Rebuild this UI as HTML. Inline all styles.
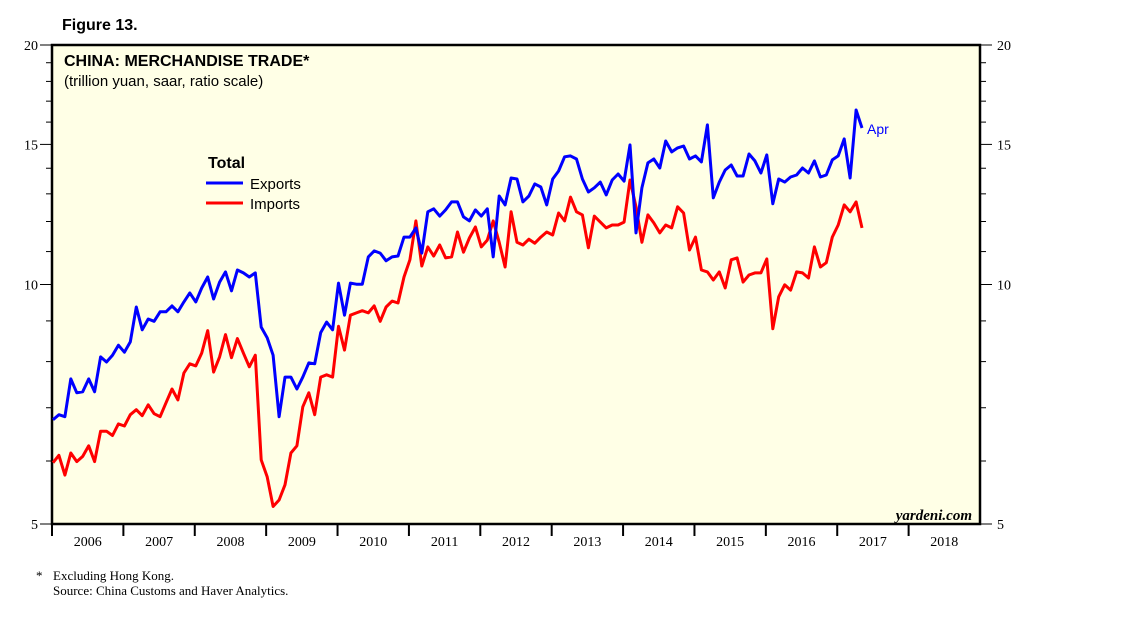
<!DOCTYPE html>
<html><head><meta charset="utf-8"><style>
body{margin:0;background:#fff;width:1138px;height:621px;overflow:hidden}
svg{display:block}
</style></head><body>
<svg id="chart" width="1138" height="621" xmlns="http://www.w3.org/2000/svg">
<text x="62" y="30" font-family="Liberation Sans, sans-serif" font-weight="bold" font-size="16">Figure 13.</text>
<rect x="52" y="45" width="928" height="479" fill="#ffffe6" stroke="#000" stroke-width="2.5"/>
<g id="ticks"></g>
<g id="series"></g>
<text x="64" y="66" font-family="Liberation Sans, sans-serif" font-weight="bold" font-size="16">CHINA: MERCHANDISE TRADE*</text>
<text x="64" y="86" font-family="Liberation Sans, sans-serif" font-size="15">(trillion yuan, saar, ratio scale)</text>
<text x="208" y="168" font-family="Liberation Sans, sans-serif" font-weight="bold" font-size="16">Total</text>
<line x1="206" y1="183" x2="243" y2="183" stroke="#0000ff" stroke-width="3"/>
<text x="250" y="189" font-family="Liberation Sans, sans-serif" font-size="15">Exports</text>
<line x1="206" y1="203" x2="243" y2="203" stroke="#ff0000" stroke-width="3"/>
<text x="250" y="209" font-family="Liberation Sans, sans-serif" font-size="15">Imports</text>
<text x="867" y="134" fill="#0000ff" font-family="Liberation Sans, sans-serif" font-size="14">Apr</text>
<text x="972" y="520" text-anchor="end" font-family="Liberation Serif, serif" font-style="italic" font-weight="bold" font-size="15">yardeni.com</text>
<text x="36" y="580" font-family="Liberation Serif, serif" font-size="13">*</text>
<text x="53" y="580" font-family="Liberation Serif, serif" font-size="13">Excluding Hong Kong.</text>
<text x="53" y="595" font-family="Liberation Serif, serif" font-size="13">Source: China Customs and Haver Analytics.</text>
</svg>
<script>
const years=["2006","2007","2008","2009","2010","2011","2012","2013","2014","2015","2016","2017","2018"];
const yTicks=[5,10,15,20];
const exportsData=[6.76,6.86,6.82,7.61,7.31,7.33,7.61,7.33,8.11,7.99,8.15,8.39,8.22,8.47,9.37,8.77,9.05,8.99,9.24,9.24,9.40,9.24,9.51,9.76,9.51,9.90,10.22,9.59,10.07,10.37,9.82,10.43,10.34,10.22,10.34,8.84,8.57,8.15,6.82,7.65,7.65,7.39,7.65,7.97,7.95,8.70,8.97,8.77,10.04,9.15,10.04,10.01,10.01,10.83,11.02,10.95,10.71,10.83,10.86,11.47,11.47,11.78,10.95,12.34,12.45,12.19,12.41,12.70,12.70,12.16,12.02,12.41,12.19,12.45,10.83,12.92,12.59,13.61,13.57,12.70,12.92,13.38,13.26,12.59,13.57,13.89,14.47,14.51,14.38,13.57,13.07,13.23,13.45,12.96,13.53,13.77,13.49,14.98,11.61,13.23,14.22,14.38,14.01,15.15,14.68,14.85,14.93,14.38,14.51,14.26,15.87,12.85,13.45,13.93,14.13,13.69,13.69,14.59,14.30,13.81,14.55,12.63,13.57,13.45,13.65,13.73,14.01,13.81,14.30,13.65,13.73,14.34,14.51,15.24,13.61,16.57,15.73];
const importsData=[5.97,6.10,5.76,6.14,5.99,6.08,6.27,5.99,6.54,6.54,6.46,6.68,6.64,6.86,6.96,6.84,7.06,6.88,6.82,7.10,7.39,7.16,7.74,7.95,7.90,8.20,8.75,7.76,8.11,8.65,8.09,8.55,8.20,7.88,8.15,6.02,5.73,5.26,5.36,5.60,6.14,6.27,7.02,7.31,6.86,7.65,7.70,7.65,8.86,8.27,9.15,9.21,9.27,9.21,9.40,8.99,9.37,9.53,9.48,10.22,10.74,12.02,10.55,11.15,10.86,11.21,10.80,10.83,11.64,10.98,11.44,11.81,11.15,11.37,12.02,11.30,10.52,12.34,11.30,11.21,11.40,11.27,11.47,11.64,11.54,12.30,12.02,12.88,12.34,12.23,11.12,12.19,11.98,11.78,11.88,11.88,11.98,13.53,12.52,11.30,12.23,11.95,11.61,11.88,11.78,12.52,12.30,11.05,11.47,10.43,10.37,10.13,10.37,9.90,10.74,10.80,10.07,10.28,10.34,10.34,10.77,8.80,9.65,9.99,9.84,10.37,10.34,10.19,11.15,10.52,10.65,11.47,11.88,12.59,12.34,12.70,11.78];
const NS="http://www.w3.org/2000/svg";
const L=52,R=980,T=45,B=524,yMin=5,yMax=20;
const yearW=(R-L)/years.length;
function xScale(i){return L+1+i*yearW/12;}
function yScale(v){return B-(Math.log(v)-Math.log(yMin))/(Math.log(yMax)-Math.log(yMin))*(B-T);}
function mk(tag,a){const e=document.createElementNS(NS,tag);for(const k in a)e.setAttribute(k,a[k]);return e;}
const tk=document.getElementById('ticks');
for(let v=5;v<=20;v++){
  const y=yScale(v);const major=yTicks.includes(v);const len=major?12:6;
  const l1=mk('line',{x1:L-len,y1:y,x2:L,y2:y,stroke:'#000','stroke-width':1});
  
  
  tk.appendChild(l1);
  const l2=mk('line',{x1:R,y1:y,x2:R+len,y2:y,stroke:'#000','stroke-width':1});
  
  
  tk.appendChild(l2);
}
yTicks.forEach(v=>{
  const y=yScale(v);
  const t1=mk('text',{x:38,y:y+5,'text-anchor':'end','font-family':'Liberation Serif, serif','font-size':14});
  t1.textContent=v;
  
  
  tk.appendChild(t1);
  const t2=mk('text',{x:997,y:y+5,'font-family':'Liberation Serif, serif','font-size':14});
  t2.textContent=v;
  
  
  tk.appendChild(t2);
});
years.forEach((yr,i)=>{
  const x=L+i*yearW;
  const l=mk('line',{x1:x,y1:B,x2:x,y2:B+12,stroke:'#000','stroke-width':2});
  
  
  tk.appendChild(l);
  const t=mk('text',{x:x+yearW/2,y:546,'text-anchor':'middle','font-family':'Liberation Serif, serif','font-size':14});
  t.textContent=yr;
  
  
  tk.appendChild(t);
});
const sg=document.getElementById('series');
function line(data,color,name){
  const d=data.map((v,i)=>(i?'L':'M')+xScale(i).toFixed(1)+','+yScale(v).toFixed(1)).join('');
  const p=mk('path',{d:d,fill:'none',stroke:color,'stroke-width':3,'stroke-linejoin':'round'});
  
  
  sg.appendChild(p);
}
line(importsData,'#ff0000','imports-line');
line(exportsData,'#0000ff','exports-line');
</script>
</body></html>
